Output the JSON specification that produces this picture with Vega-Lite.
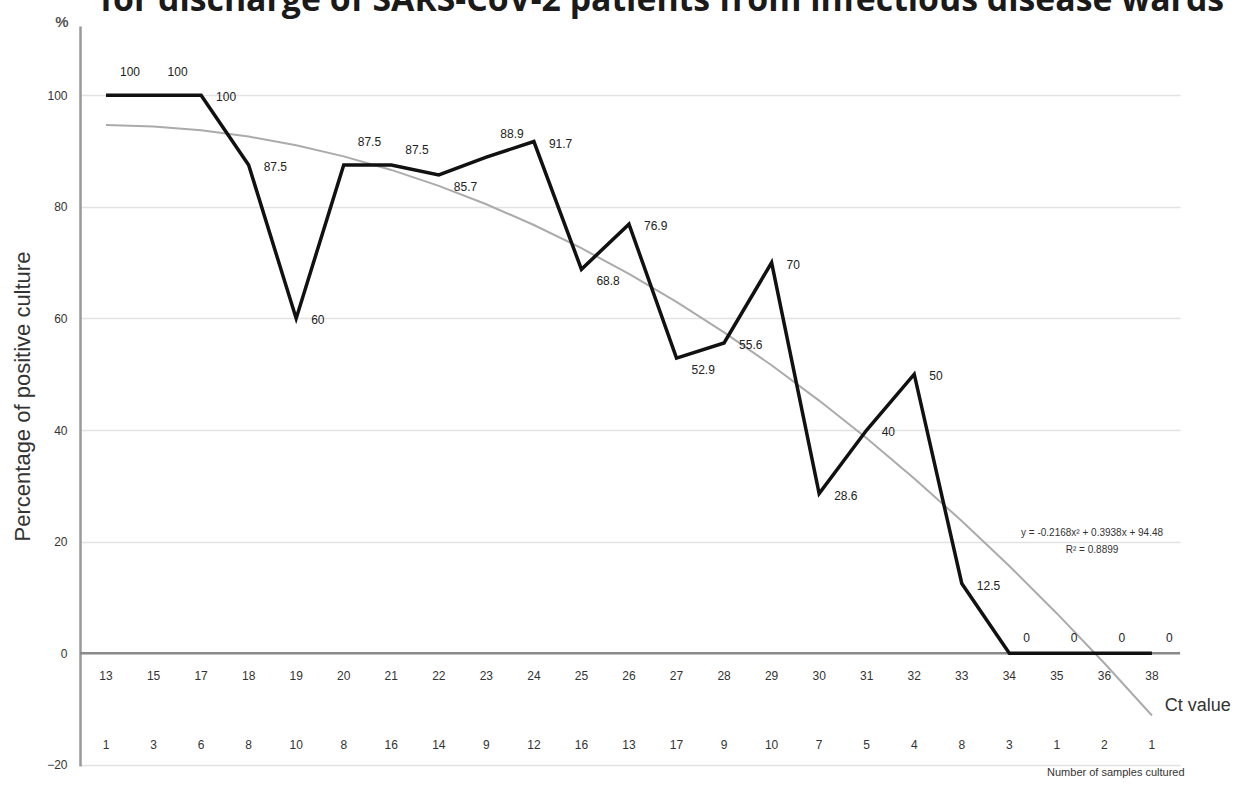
{
  "$schema": "https://vega.github.io/schema/vega-lite/v6.json",
  "width": 1100,
  "height": 740,
  "autosize": {"type": "none"},
  "padding": {"left": 80, "top": 26, "right": 55, "bottom": 21},
  "background": "white",
  "title": {
    "text": "for discharge of SARS-CoV-2 patients from infectious disease wards",
    "font": "Open Sans",
    "fontSize": 33.8,
    "fontWeight": "bold",
    "color": "#1a1a1a",
    "anchor": "middle",
    "baseline": "alphabetic",
    "offset": 0,
    "dx": 32,
    "dy": 30
  },
  "config": {
    "view": {"stroke": null},
    "font": "Liberation Sans"
  },
  "data": {
    "values": [
      {"idx": 1, "ct": 13, "pct": 100, "n": 1, "trend": 94.66},
      {"idx": 2, "ct": 15, "pct": 100, "n": 3, "trend": 94.4},
      {"idx": 3, "ct": 17, "pct": 100, "n": 6, "trend": 93.71},
      {"idx": 4, "ct": 18, "pct": 87.5, "n": 8, "trend": 92.59},
      {"idx": 5, "ct": 19, "pct": 60, "n": 10, "trend": 91.03},
      {"idx": 6, "ct": 20, "pct": 87.5, "n": 8, "trend": 89.04},
      {"idx": 7, "ct": 21, "pct": 87.5, "n": 16, "trend": 86.61},
      {"idx": 8, "ct": 22, "pct": 85.7, "n": 14, "trend": 83.76},
      {"idx": 9, "ct": 23, "pct": 88.9, "n": 9, "trend": 80.46},
      {"idx": 10, "ct": 24, "pct": 91.7, "n": 12, "trend": 76.74},
      {"idx": 11, "ct": 25, "pct": 68.8, "n": 16, "trend": 72.58},
      {"idx": 12, "ct": 26, "pct": 76.9, "n": 13, "trend": 67.99},
      {"idx": 13, "ct": 27, "pct": 52.9, "n": 17, "trend": 62.96},
      {"idx": 14, "ct": 28, "pct": 55.6, "n": 9, "trend": 57.5},
      {"idx": 15, "ct": 29, "pct": 70, "n": 10, "trend": 51.61},
      {"idx": 16, "ct": 30, "pct": 28.6, "n": 7, "trend": 45.28},
      {"idx": 17, "ct": 31, "pct": 40, "n": 5, "trend": 38.52},
      {"idx": 18, "ct": 32, "pct": 50, "n": 4, "trend": 31.33},
      {"idx": 19, "ct": 33, "pct": 12.5, "n": 8, "trend": 23.7},
      {"idx": 20, "ct": 34, "pct": 0, "n": 3, "trend": 15.64},
      {"idx": 21, "ct": 35, "pct": 0, "n": 1, "trend": 7.14},
      {"idx": 22, "ct": 36, "pct": 0, "n": 2, "trend": -1.79},
      {"idx": 23, "ct": 38, "pct": 0, "n": 1, "trend": -11.15}
    ]
  },
  "layer": [
    {
      "mark": {"type": "line", "color": "#ababab", "strokeWidth": 2},
      "encoding": {
        "x": {"field": "idx", "type": "quantitative", "scale": {"domain": [0.453, 23.59], "nice": false, "zero": false}, "axis": null},
        "y": {
          "field": "trend", "type": "quantitative",
          "scale": {"domain": [-20.2, 112.4], "nice": false, "zero": false},
          "axis": {
            "title": "Percentage of positive culture",
            "values": [-20, 0, 20, 40, 60, 80, 100],
            "grid": true,
            "gridColor": "#e2e2e2",
            "gridWidth": 1.5,
            "domainColor": "#999999",
            "domainWidth": 2.5,
            "ticks": false,
            "labelPadding": 13,
            "labelColor": "#333333",
            "labelFontSize": 12,
            "titleFontSize": 22,
            "titleFontWeight": "normal",
            "titleColor": "#333333",
            "titlePadding": 12
          }
        }
      }
    },
    {
      "data": {"values": [{}]},
      "mark": {"type": "rule", "color": "#8a8a8a", "strokeWidth": 2.5},
      "encoding": {"y": {"datum": 0}}
    },
    {
      "mark": {"type": "line", "color": "#111111", "strokeWidth": 3.5, "strokeJoin": "miter"},
      "encoding": {
        "x": {"field": "idx", "type": "quantitative", "axis": null},
        "y": {"field": "pct", "type": "quantitative", "title": "Percentage of positive culture"}
      }
    },
    {
      "transform": [{"filter": {"field": "ct", "oneOf": [13, 15, 20, 23]}}],
      "mark": {"type": "text", "align": "left", "baseline": "middle", "dx": 14, "dy": -23, "fontSize": 12, "color": "#222222"},
      "encoding": {
        "x": {"field": "idx", "type": "quantitative", "axis": null},
        "y": {"field": "pct", "type": "quantitative", "title": "Percentage of positive culture"},
        "text": {"field": "pct", "type": "quantitative"}
      }
    },
    {
      "transform": [{"filter": {"field": "ct", "oneOf": [21, 34, 35, 36, 38]}}],
      "mark": {"type": "text", "align": "left", "baseline": "middle", "dx": 14, "dy": -15, "fontSize": 12, "color": "#222222"},
      "encoding": {
        "x": {"field": "idx", "type": "quantitative", "axis": null},
        "y": {"field": "pct", "type": "quantitative", "title": "Percentage of positive culture"},
        "text": {"field": "pct", "type": "quantitative"}
      }
    },
    {
      "transform": [{"filter": {"field": "ct", "oneOf": [17, 18, 19, 24, 26, 28, 29, 30, 31, 32, 33]}}],
      "mark": {"type": "text", "align": "left", "baseline": "middle", "dx": 15, "dy": 2, "fontSize": 12, "color": "#222222"},
      "encoding": {
        "x": {"field": "idx", "type": "quantitative", "axis": null},
        "y": {"field": "pct", "type": "quantitative", "title": "Percentage of positive culture"},
        "text": {"field": "pct", "type": "quantitative"}
      }
    },
    {
      "transform": [{"filter": {"field": "ct", "oneOf": [22, 25, 27]}}],
      "mark": {"type": "text", "align": "left", "baseline": "middle", "dx": 15, "dy": 12, "fontSize": 12, "color": "#222222"},
      "encoding": {
        "x": {"field": "idx", "type": "quantitative", "axis": null},
        "y": {"field": "pct", "type": "quantitative", "title": "Percentage of positive culture"},
        "text": {"field": "pct", "type": "quantitative"}
      }
    },
    {
      "mark": {"type": "text", "align": "center", "baseline": "middle", "fontSize": 12, "color": "#333333"},
      "encoding": {
        "x": {"field": "idx", "type": "quantitative", "axis": null},
        "y": {"datum": -4.1},
        "text": {"field": "ct", "type": "nominal"}
      }
    },
    {
      "mark": {"type": "text", "align": "center", "baseline": "middle", "fontSize": 12, "color": "#333333"},
      "encoding": {
        "x": {"field": "idx", "type": "quantitative", "axis": null},
        "y": {"datum": -16.4},
        "text": {"field": "n", "type": "nominal"}
      }
    },
    {
      "data": {"values": [{}]},
      "mark": {"type": "text", "align": "left", "baseline": "middle", "fontSize": 18, "color": "#333333", "text": "Ct value"},
      "encoding": {"x": {"datum": 23.27}, "y": {"datum": -9.5}}
    },
    {
      "data": {"values": [{}]},
      "mark": {"type": "text", "align": "center", "baseline": "middle", "fontSize": 10, "color": "#333333", "lineHeight": 17, "text": ["y = -0.2168x² + 0.3938x + 94.48", "R² = 0.8899"]},
      "encoding": {"x": {"datum": 21.74}, "y": {"datum": 21.6}}
    },
    {
      "data": {"values": [{}]},
      "mark": {"type": "text", "align": "center", "baseline": "top", "fontSize": 11, "color": "#333333", "dy": 1, "text": "Number of samples cultured"},
      "encoding": {"x": {"datum": 22.24}, "y": {"datum": -20.2}}
    },
    {
      "data": {"values": [{}]},
      "mark": {"type": "text", "align": "center", "baseline": "middle", "fontSize": 15, "fontWeight": "bold", "color": "#555555", "dx": -18, "dy": -4, "text": "%"},
      "encoding": {"x": {"datum": 0.453}, "y": {"datum": 112.4}}
    }
  ]
}
